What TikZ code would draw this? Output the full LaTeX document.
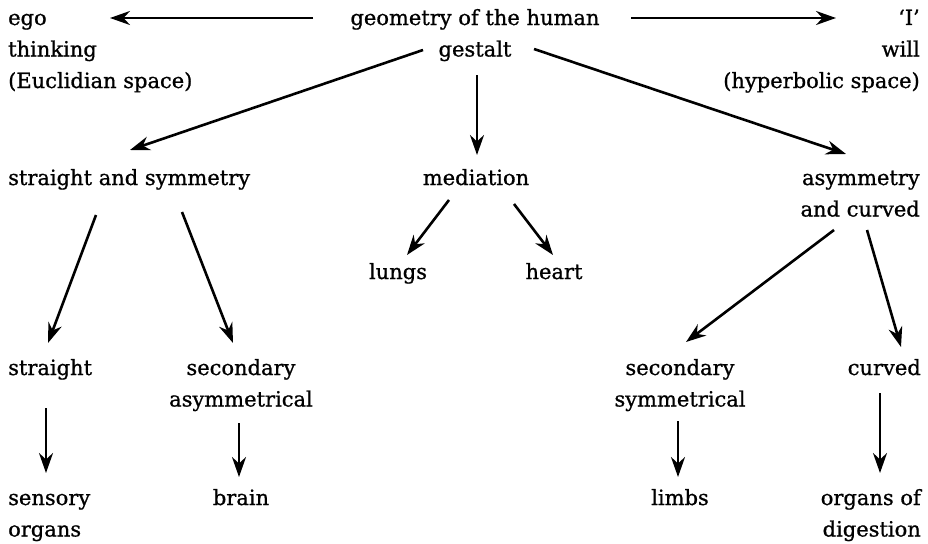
\documentclass[tikz,border=0pt]{standalone}
\usepackage{fontspec}
\setmainfont{DejaVu Serif}[BoldFont=DejaVu Serif, BoldFeatures={FakeBold=0.9}]
\usetikzlibrary{arrows.meta}
\tikzset{
  lbl/.style={inner sep=0pt, font=\fontsize{21}{31.5}\selectfont\bfseries},
  arr/.style={line width=2.6pt, -{Stealth[length=20pt,width=14pt]}}
}
\begin{document}
\begin{tikzpicture}[x=1pt,y=-1pt]
\useasboundingbox (0,0) rectangle (928,543);
% nodes (base anchor = baseline of the last line)
\node[lbl, anchor=base west, align=left] (ego) at (8,88) {ego\\thinking\\(Euclidian space)};
\node[lbl, anchor=base, align=center] (geo) at (475,56.5) {geometry of the human\\gestalt};
\node[lbl, anchor=base east, align=right] (I) at (920,88) {‘I’\\will\\(hyperbolic space)};
\node[lbl, anchor=base west] (sas) at (8,185) {straight and symmetry};
\node[lbl, anchor=base] (med) at (476,185) {mediation};
\node[lbl, anchor=base east, align=right] (asy) at (920,216.5) {asymmetry\\and curved};
\node[lbl, anchor=base] (lungs) at (398,279) {lungs};
\node[lbl, anchor=base] (heart) at (554,279) {heart};
\node[lbl, anchor=base west] (str) at (8,375) {straight};
\node[lbl, anchor=base, align=center] (sec1) at (241,406.5) {secondary\\asymmetrical};
\node[lbl, anchor=base, align=center] (sec2) at (680,406.5) {secondary\\symmetrical};
\node[lbl, anchor=base east] (cur) at (921,375) {curved};
\node[lbl, anchor=base west, align=left] (sens) at (8,536.5) {sensory\\organs};
\node[lbl, anchor=base] (brain) at (241,505) {brain};
\node[lbl, anchor=base] (limbs) at (680,505) {limbs};
\node[lbl, anchor=base east, align=right] (dig) at (921,536.5) {organs of\\digestion};
% connectors
\draw[arr] ([shift={(-162,-38.5)}]geo.base) -- ([shift={(102,-70)}]ego.base west);
\draw[arr] ([shift={(156,-38.5)}]geo.base) -- ([shift={(-84,-70)}]I.base east);
\draw[arr] ([shift={(-52,-6.5)}]geo.base) -- ([shift={(122,-35)}]sas.base west);
\draw[arr] ([shift={(2,18.5)}]geo.base) -- ([shift={(1,-30)}]med.base);
\draw[arr] ([shift={(59,-7.5)}]geo.base) -- ([shift={(-74,-62.5)}]asy.base east);
\draw[arr] ([shift={(88,30)}]sas.base west) -- ([shift={(40,-32)}]str.base west);
\draw[arr] ([shift={(174,27)}]sas.base west) -- ([shift={(-8,-63.5)}]sec1.base);
\draw[arr] ([shift={(-27,15)}]med.base) -- ([shift={(9,-24)}]lungs.base);
\draw[arr] ([shift={(38,19)}]med.base) -- ([shift={(-1,-24)}]heart.base);
\draw[arr] ([shift={(-86,13.5)}]asy.base east) -- ([shift={(6,-64.5)}]sec2.base);
\draw[arr] ([shift={(-53,13.5)}]asy.base east) -- ([shift={(-20,-28)}]cur.base east);
\draw[arr] ([shift={(38,33)}]str.base west) -- ([shift={(38,-63.5)}]sens.base west);
\draw[arr] ([shift={(-2,16.5)}]sec1.base) -- ([shift={(-2,-28)}]brain.base);
\draw[arr] ([shift={(-2,14.5)}]sec2.base) -- ([shift={(-2,-28)}]limbs.base);
\draw[arr] ([shift={(-41,18)}]cur.base east) -- ([shift={(-41,-63.5)}]dig.base east);
\end{tikzpicture}
\end{document}
